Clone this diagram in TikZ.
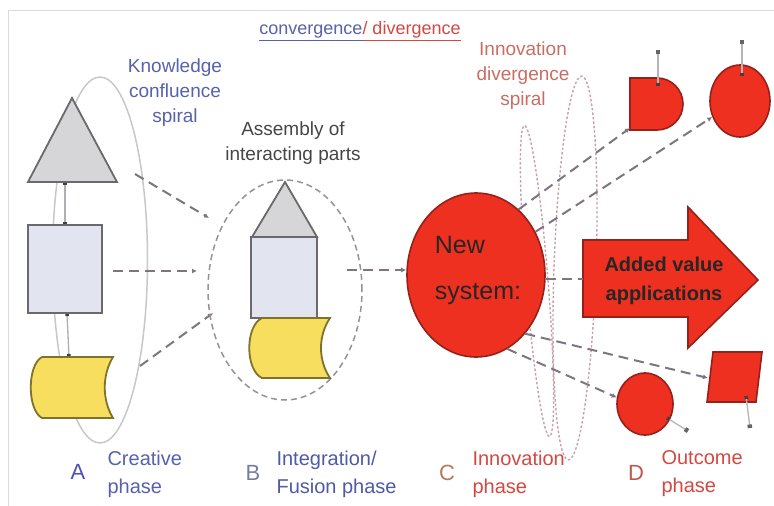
\documentclass[tikz,border=0pt]{standalone}
\usepackage{fontspec}
\setmainfont{Liberation Sans}
\usetikzlibrary{arrows.meta,shapes.geometric}

\definecolor{txtblue}{RGB}{88,98,172}
\definecolor{txtblueB}{RGB}{80,90,165}
\definecolor{letterA}{RGB}{80,80,180}
\definecolor{letterB}{RGB}{120,125,160}
\definecolor{letterC}{RGB}{185,120,90}
\definecolor{letterD}{RGB}{190,90,80}
\definecolor{txtred}{RGB}{212,72,66}
\definecolor{txtpink}{RGB}{200,110,100}
\definecolor{txtdark}{RGB}{70,70,72}
\definecolor{redfill}{RGB}{238,48,32}
\definecolor{redline}{RGB}{150,32,26}
\definecolor{yelfill}{RGB}{248,222,95}
\definecolor{yelline}{RGB}{125,115,45}
\definecolor{grayfill}{RGB}{214,214,216}
\definecolor{grayline}{RGB}{105,105,110}
\definecolor{boxfill}{RGB}{226,229,240}
\definecolor{dashc}{RGB}{125,118,128}
\definecolor{spiralc}{RGB}{200,200,200}
\definecolor{spiralred}{RGB}{200,160,172}
\definecolor{framec}{RGB}{218,218,218}

\tikzset{
  part/.style={draw=grayline, line width=1.8pt},
  yelpart/.style={draw=yelline, fill=yelfill, line width=1.8pt},
  redpart/.style={draw=redline, fill=redfill, line width=1.6pt},
  link/.style={draw=dashc, line width=2pt, dash pattern=on 10pt off 6pt,
    -{Latex[length=5pt,width=5pt]}},
  plainlink/.style={draw=dashc, line width=2pt, dash pattern=on 10pt off 6pt},
  tie/.style={draw=dashc!60, line width=1.3pt,
    {Square[length=3pt,width=3.5pt,color=black!75]}-{Square[length=3pt,width=3.5pt,color=black!75]}},
  outlet/.style={draw=dashc!55, line width=1.3pt,
    {Square[length=3pt,width=3.5pt,color=black!75]}-{Square[length=3.5pt,width=4.5pt,color=black!60]}},
  spiral/.style={draw=spiralc, line width=1.5pt},
  redspiral/.style={draw=spiralred, line width=1.4pt, dash pattern=on 2.5pt off 2pt},
  label/.style={font=\fontsize{19}{25}\selectfont, align=center},
  phase/.style={font=\fontsize{20}{28}\selectfont, align=left, anchor=west},
  letter/.style={font=\fontsize{22}{26}\selectfont}
}

\begin{document}
\begin{tikzpicture}[x=1pt, y=-1pt]
\useasboundingbox (0,0) rectangle (774,506);
\fill[white] (0,0) rectangle (774,506);
% light frame
\draw[framec, line width=1pt] (8,506) -- (8,10) -- (774,10);

% heading
\node[font=\fontsize{18}{22}\selectfont] (head) at (360,31)
  {\textcolor{txtblue}{\underline{convergence}}\textcolor{txtred}{\underline{/ divergence}}};

% ---------- A: creative phase ----------
\node[spiral, ellipse, minimum width=95, minimum height=366, inner sep=0] (eA) at (100,260) {};
\node[label, text=txtblue] (kcs) at (175,93) {Knowledge\\confluence\\spiral};

\coordinate (tAb) at (65,182);
\coordinate (yAt) at (69,357);
\draw[tie] (tAb) -- (65,225) coordinate (rAt);
\draw[tie] (67,313) coordinate (rAb) -- (yAt);

\draw[part, fill=grayfill] (72,98) -- (117,182) -- (28,182) -- cycle;
\node[part, fill=boxfill, minimum width=74, minimum height=88, inner sep=0] (rA) at (65,269) {};
\draw[yelpart] (42,357) -- (113,357) .. controls (102,375) and (102,400) .. (113,418)
  -- (42,418) .. controls (27,410) and (27,365) .. (42,357) -- cycle;

% connectors A -> B
\coordinate (a1) at (135,174);
\coordinate (b1) at (209,218);
\coordinate (a2) at (113,271);
\coordinate (b2) at (197,271);
\coordinate (a3) at (140,366);
\coordinate (b3) at (213,313);
\draw[link] (a1) -- (b1);
\draw[link] (a2) -- (b2);
\draw[link] (a3) -- (b3);

% ---------- B: integration / fusion phase ----------
\node[label, text=txtdark] (aip) at (293,143) {Assembly of\\interacting parts};
\node[draw=dashc!80, line width=1.5pt, dash pattern=on 6pt off 4pt, ellipse,
  minimum width=154, minimum height=220, inner sep=0] (eB) at (285,290) {};
\draw[part, fill=grayfill] (285,182) -- (317,237) -- (252,237) -- cycle;
\node[part, fill=boxfill, minimum width=66, minimum height=81, inner sep=0] (rB) at (284,277.5) {};
\draw[yelpart] (262,318) -- (330,318) .. controls (318,336) and (318,360) .. (330,378)
  -- (262,378) .. controls (245,370) and (245,326) .. (262,318) -- cycle;

% ---------- C: innovation phase ----------
\node[label, text=txtpink] (ids) at (523,76) {Innovation\\divergence\\spiral};
\draw[redspiral] (537,281) ellipse [x radius=11, y radius=156, rotate=4.6];
\draw[redspiral] (575,268) ellipse [x radius=21, y radius=192, rotate=-2];

\node[redpart, ellipse, minimum width=138, minimum height=164, inner sep=0] (ns) at (476,275) {};
\node[font=\fontsize{25}{46}\selectfont, align=left, text=black!85] (nst) at (478,270) {New\\system:};

\coordinate (c1) at (347,270);
\draw[link] (c1) -- (c1 -| ns.west);

% ---------- D: outcome phase ----------
\draw[redpart] (583,240) -- (688,240) -- (688,207) -- (758,280) -- (688,348)
  -- (688,317) -- (583,317) -- cycle;
\coordinate (arT) at (583,279);
\node[font=\bfseries\fontsize{20}{29}\selectfont, align=center, text=black!85] (avt) at (664,281) {Added value\\applications};
\draw[plainlink] (arT -| ns.east) -- (arT);

\draw[redpart] (630,78) -- (657,78) arc[start angle=-90, end angle=90, radius=26]
  -- (630,130) -- cycle;
\coordinate (dL) at (630,128);
\node[redpart, ellipse, minimum width=60, minimum height=72, inner sep=0] (cT) at (740,101) {};
\draw[redpart] (713,352) -- (762,352) -- (756,402) -- (707,402) -- cycle;
\coordinate (pL) at (708,378);
\node[redpart, ellipse, minimum width=56, minimum height=62, inner sep=0] (cB) at (645,404) {};

\draw[link] (ns.57) -- (dL);
\draw[link] (ns.36) -- (cT.210);
\draw[link] (ns.-50) -- (pL);
\draw[link] (ns.-67) -- (cB.167);

% outputs
\coordinate (oD) at (658,50);
\coordinate (oT) at (742,40);
\coordinate (oB) at (688,431);
\coordinate (oP) at (750,428);
\draw[outlet] (658,86) -- (oD);
\draw[outlet] (742,76) -- (oT);
\draw[outlet] (667,418) -- (oB);
\draw[outlet] (746,396) -- (oP);

% ---------- phase captions ----------
\node[letter, text=letterA] (LA) at (78,472) {A};
\node[phase, text=txtblue] (pA) at (104,474) {Creative\\phase};
\node[letter, text=letterB] (LB) at (253,473) {B};
\node[phase, text=txtblueB] (pB) at (273,474) {Integration/\\Fusion phase};
\node[letter, text=letterC] (LC) at (447,473) {C};
\node[phase, text=txtred] (pC) at (469,474) {Innovation\\phase};
\node[letter, text=letterD] (LD) at (636,473) {D};
\node[phase, text=txtred] (pD) at (658,474) {Outcome\\phase};
\end{tikzpicture}
\end{document}
